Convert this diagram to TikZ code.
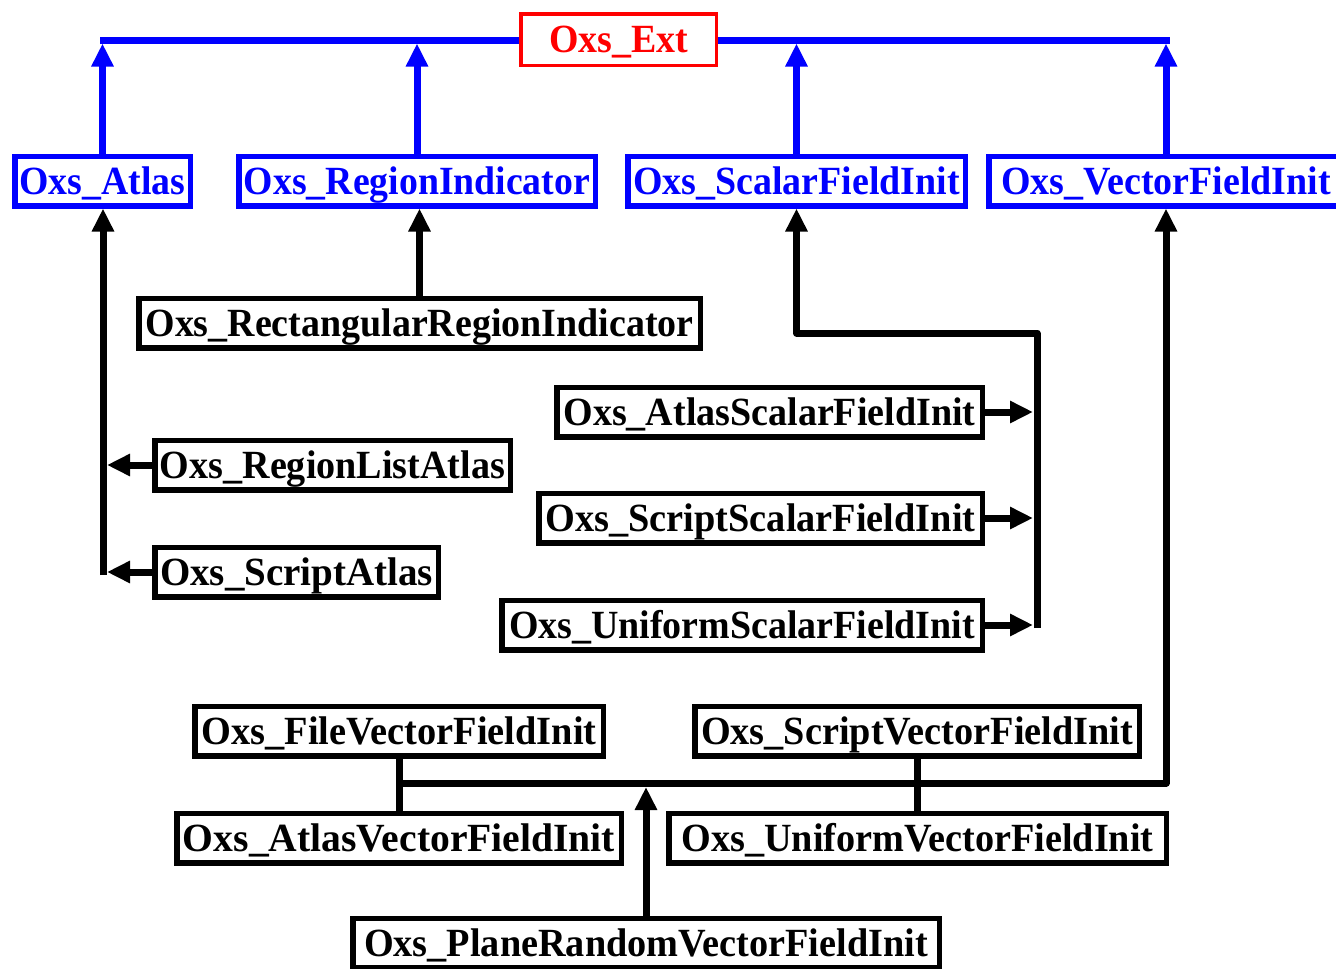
\documentclass[tikz,border=0pt]{standalone}
\usepackage{fontspec}
\usepackage{graphicx}
\setmainfont{Liberation Serif}
\usetikzlibrary{arrows.meta}
\definecolor{pblue}{RGB}{0,0,255}
\definecolor{pred}{RGB}{255,0,0}
\newcommand\fw[2]{\resizebox{#1pt}{\height}{#2}}
\tikzset{
  bx/.style={draw, fill=white, line width=5.5pt, inner sep=0pt, minimum height=49.5pt,
    text height=30pt, text depth=4pt, font=\fontsize{40}{40}\selectfont\bfseries},
  bbx/.style={bx, draw=pblue, text=pblue},
  rbx/.style={bx, draw=pred, text=pred, line width=3.5pt, minimum height=51.5pt},
  bl/.style={draw=pblue, line width=7pt},
  bk/.style={draw=black, line width=7pt, line join=round},
  tri/.style={-{Triangle[length=23pt,width=21pt]}},
}
\begin{document}
\begin{tikzpicture}[x=1pt,y=-1pt]
\useasboundingbox (0,0) rectangle (1336,969);
\fill[white] (0,0) rectangle (1336,969);
% bus
\coordinate (busL) at (103,40);
\coordinate (busR) at (1166,40);
\coordinate (busE) at (0,43.5);
\draw[bl, line cap=rect] (busL) -- (busR);
% top nodes
\node[rbx, minimum width=195.5pt] (ext) at (618.5,39.5) {\fw{139}{Oxs\_Ext}};
\node[bbx, minimum width=175.5pt] (atlas) at (102.5,181) {\fw{166}{Oxs\_Atlas}};
\node[bbx, minimum width=356.5pt] (ri) at (417,181) {\fw{346}{Oxs\_RegionIndicator}};
\node[bbx, minimum width=337.5pt] (sfi) at (796.5,181) {\fw{327}{Oxs\_ScalarFieldInit}};
\node[bbx, minimum width=354.5pt] (vfi) at (1166,181) {\fw{330}{Oxs\_VectorFieldInit}};
% blue arrows
\foreach \n in {atlas,ri,sfi,vfi}
  \draw[bl, tri] (\n.north) -- (\n.north |- busE);
% region indicator
\node[bx, minimum width=561.5pt] (rri) at (419.5,323) {\fw{548}{Oxs\_RectangularRegionIndicator}};
\draw[bk, tri] (rri.north) -- (rri.north |- ri.south);
% atlas children
\node[bx, minimum width=355.5pt] (rla) at (332.5,465) {\fw{345}{Oxs\_RegionListAtlas}};
\node[bx, minimum width=283.5pt] (sa) at (296.5,572) {\fw{273}{Oxs\_ScriptAtlas}};
\coordinate (aBot) at (103,575);
\coordinate (aEdge) at (107,0);
\draw[bk, tri] (aBot) -- (aBot |- atlas.south);
\draw[bk, tri] (rla.west) -- (rla.west -| aEdge);
\draw[bk, tri] (sa.west) -- (sa.west -| aEdge);
% scalar children
\node[bx, minimum width=425.5pt] (asfi) at (769.5,412) {\fw{412}{Oxs\_AtlasScalarFieldInit}};
\node[bx, minimum width=443.5pt] (ssfi) at (760.5,518) {\fw{430}{Oxs\_ScriptScalarFieldInit}};
\node[bx, minimum width=480.5pt] (usfi) at (742,625) {\fw{466}{Oxs\_UniformScalarFieldInit}};
\coordinate (sBot) at (1037,628);
\coordinate (sTop) at (1037,333);
\coordinate (sEdge) at (1033,0);
\draw[bk, tri] (sBot) -- (sTop) -| (sfi.south);
\draw[bk, tri] (asfi.east) -- (asfi.east -| sEdge);
\draw[bk, tri] (ssfi.east) -- (ssfi.east -| sEdge);
\draw[bk, tri] (usfi.east) -- (usfi.east -| sEdge);
% vector children
\node[bx, minimum width=408.5pt] (fvi) at (399,731) {\fw{395}{Oxs\_FileVectorFieldInit}};
\node[bx, minimum width=444.5pt] (svi) at (917,731) {\fw{432}{Oxs\_ScriptVectorFieldInit}};
\node[bx, minimum width=444.5pt] (avi) at (399,838) {\fw{432}{Oxs\_AtlasVectorFieldInit}};
\node[bx, minimum width=497.5pt] (uvi) at (917.5,838) {\fw{472}{Oxs\_UniformVectorFieldInit}};
\node[bx, minimum width=586.5pt] (prv) at (646,943) {\fw{564}{Oxs\_PlaneRandomVectorFieldInit}};
\coordinate (vL) at (399,783);
\coordinate (vR) at (1166,783);
\coordinate (vE) at (0,787);
\draw[bk] (fvi.south) -- (avi.north);
\draw[bk] (svi.south |- fvi.south) -- (svi.south |- uvi.north);
\draw[bk, tri] (vL) -- (vR) -- (vR |- vfi.south);
\draw[bk, tri] (prv.north) -- (prv.north |- vE);
\end{tikzpicture}
\end{document}
